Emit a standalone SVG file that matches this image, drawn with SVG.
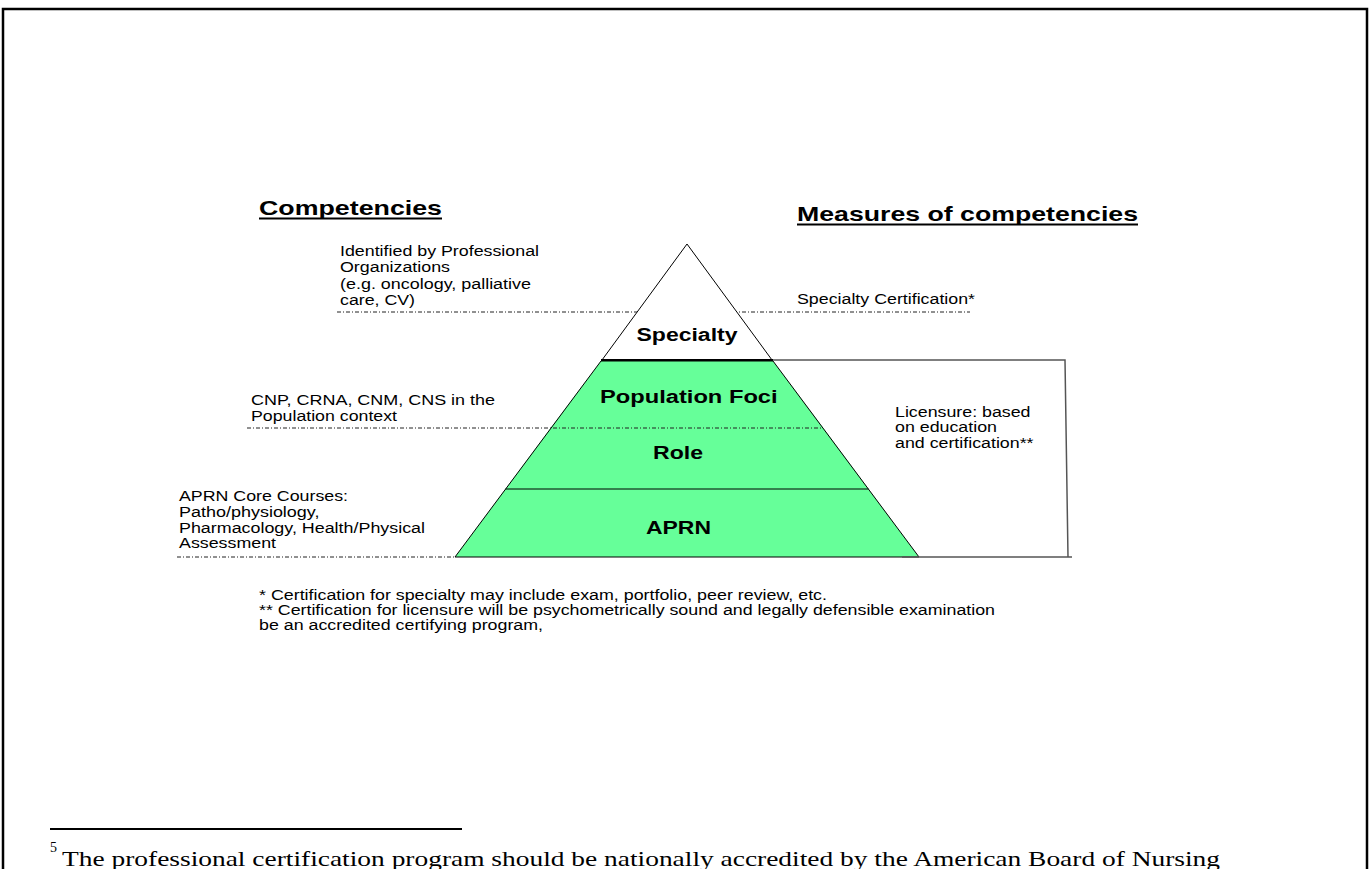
<svg xmlns="http://www.w3.org/2000/svg" width="1370" height="869" viewBox="0 0 1370 869">
<style>
  .t { font-family: "Liberation Sans", Arial, sans-serif; font-size: 14px; fill: #000; }
  .b { font-family: "Liberation Sans", Arial, sans-serif; font-size: 18px; font-weight: bold; fill: #000; }
  .h { font-family: "Liberation Sans", Arial, sans-serif; font-size: 21px; font-weight: bold; fill: #000; }
  .fn { font-family: "Liberation Serif", "Times New Roman", serif; font-size: 21.5px; fill: #000; }
  .sup { font-family: "Liberation Serif", "Times New Roman", serif; font-size: 14px; fill: #000; }
  .dd { stroke: #222; stroke-width: 1; stroke-dasharray: 4 2 1 2; fill: none; }
  .br { stroke: #555; stroke-width: 1.5; fill: none; }
  .tier { fill: #66FF99; stroke: none; }
</style>
<rect x="0" y="0" width="1370" height="869" fill="#fff"/>
<path d="M3 880 V9 H1367 V880" fill="none" stroke="#000" stroke-width="2.5"/>

<g id="headings">
  <text class="h" x="259" y="215" textLength="183" lengthAdjust="spacingAndGlyphs">Competencies</text>
  <line x1="259" y1="218.5" x2="442" y2="218.5" stroke="#000" stroke-width="1.8"/>
  <text class="h" x="797" y="221" textLength="341" lengthAdjust="spacingAndGlyphs">Measures of competencies</text>
  <line x1="797" y1="224.5" x2="1138" y2="224.5" stroke="#000" stroke-width="1.8"/>
</g>

<g id="connectors-back">
  <line class="dd" x1="337" y1="312" x2="970" y2="312"/>
</g>

<g id="specialty">
  <polygon points="687,244 772,360 602,360" fill="#fff" stroke="#000" stroke-width="1"/>
  <line x1="601" y1="360" x2="773" y2="360" stroke="#000" stroke-width="2"/>
  <text class="b" x="636.5" y="341" textLength="101" lengthAdjust="spacingAndGlyphs">Specialty</text>
</g>

<g id="population-foci">
  <polygon class="tier" points="601,361 773,361 823.3,428 550.7,428"/>
  <text class="b" x="600" y="403" textLength="177.6" lengthAdjust="spacingAndGlyphs">Population Foci</text>
</g>

<g id="role">
  <polygon class="tier" points="550.7,428 823.3,428 868.5,489 505.5,489"/>
  <text class="b" x="653" y="459" textLength="50" lengthAdjust="spacingAndGlyphs">Role</text>
</g>

<g id="aprn">
  <polygon class="tier" points="505.5,489 868.5,489 919,557 455,557"/>
  <text class="b" x="646" y="534" textLength="65" lengthAdjust="spacingAndGlyphs">APRN</text>
</g>

<g id="pyramid-outline" fill="none" stroke="#000" stroke-width="1">
  <polygon points="601,361 773,361 919,557 455,557"/>
  <line x1="505.5" y1="489" x2="868.5" y2="489"/>
</g>

<g id="connectors">
  <line class="dd" x1="247" y1="428" x2="823" y2="428"/>
  <line class="dd" x1="177" y1="557" x2="455" y2="557"/>
  <polyline class="br" points="773,360 1065,360 1068,557"/>
  <line class="br" x1="902" y1="557" x2="1072" y2="557"/>
</g>

<g id="label-specialty-comp">
  <text class="t" x="340" y="256" textLength="199" lengthAdjust="spacingAndGlyphs">Identified by Professional</text>
  <text class="t" x="340" y="272" textLength="110" lengthAdjust="spacingAndGlyphs">Organizations</text>
  <text class="t" x="340" y="289" textLength="191" lengthAdjust="spacingAndGlyphs">(e.g. oncology, palliative</text>
  <text class="t" x="340" y="305" textLength="75" lengthAdjust="spacingAndGlyphs">care, CV)</text>
</g>

<g id="label-specialty-measure">
  <text class="t" x="797" y="304" textLength="178" lengthAdjust="spacingAndGlyphs">Specialty Certification*</text>
</g>

<g id="label-population-comp">
  <text class="t" x="251" y="405" textLength="244" lengthAdjust="spacingAndGlyphs">CNP, CRNA, CNM, CNS in the</text>
  <text class="t" x="251" y="421" textLength="146" lengthAdjust="spacingAndGlyphs">Population context</text>
</g>

<g id="label-licensure">
  <text class="t" x="895" y="417" textLength="135.5" lengthAdjust="spacingAndGlyphs">Licensure: based</text>
  <text class="t" x="895" y="432" textLength="102" lengthAdjust="spacingAndGlyphs">on education</text>
  <text class="t" x="895" y="448" textLength="138.5" lengthAdjust="spacingAndGlyphs">and certification**</text>
</g>

<g id="label-aprn-comp">
  <text class="t" x="179" y="501" textLength="169" lengthAdjust="spacingAndGlyphs">APRN Core Courses:</text>
  <text class="t" x="179" y="517" textLength="140.5" lengthAdjust="spacingAndGlyphs">Patho/physiology,</text>
  <text class="t" x="179" y="533" textLength="246" lengthAdjust="spacingAndGlyphs">Pharmacology, Health/Physical</text>
  <text class="t" x="179" y="548" textLength="97" lengthAdjust="spacingAndGlyphs">Assessment</text>
</g>

<g id="notes">
  <text class="t" x="259" y="600" textLength="568" lengthAdjust="spacingAndGlyphs">* Certification for specialty may include exam, portfolio, peer review, etc.</text>
  <text class="t" x="259" y="615" textLength="736" lengthAdjust="spacingAndGlyphs">** Certification for licensure will be psychometrically sound and legally defensible examination</text>
  <text class="t" x="259" y="630" textLength="284" lengthAdjust="spacingAndGlyphs">be an accredited certifying program,</text>
</g>

<g id="footnote">
  <line x1="50" y1="829" x2="462" y2="829" stroke="#000" stroke-width="2"/>
  <text class="sup" x="50" y="852">5</text>
  <text class="fn" x="62" y="866" textLength="1158" lengthAdjust="spacingAndGlyphs">The professional certification program should be nationally accredited by the American Board of Nursing</text>
</g>
</svg>
